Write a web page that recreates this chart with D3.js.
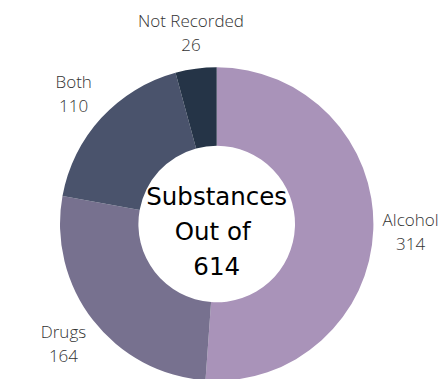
<!DOCTYPE html>
<html>
<head>
<meta charset="utf-8">
<script src="https://cdn.jsdelivr.net/npm/d3@7"></script>
<style>
  body { margin: 0; background: #fff; }
  svg { display: block; }
</style>
</head>
<body>
<svg id="donut"></svg>
<script>
// data
const categories = ['Alcohol', 'Drugs', 'Both', 'Not Recorded'];
const counts = [314, 164, 110, 26];
const colors = ['#a993b9', '#77718f', '#4a536c', '#253447'];
const centerLines = ['Substances', 'Out of', '614'];

const width = 446;
const height = 379;
const cx = 216.7;
const cy = 224;
const outerR = 156.7;
const innerR = 78.3;
const labelR = 194;

const svg = d3.select('#donut')
    .attr('width', width)
    .attr('height', height);

const g = svg.append('g')
    .attr('transform', `translate(${cx},${cy})`);

const data = categories.map((c, i) => ({ name: c, value: counts[i], color: colors[i] }));

const pie = d3.pie().sort(null).value(d => d.value);
const arc = d3.arc().innerRadius(innerR).outerRadius(outerR);
const labelArc = d3.arc().innerRadius(labelR).outerRadius(labelR);

const arcs = pie(data);

g.selectAll('path')
    .data(arcs)
    .enter()
    .append('path')
    .attr('d', arc)
    .attr('fill', d => d.data.color);

// outside labels
const labels = g.selectAll('.lbl')
    .data(arcs)
    .enter()
    .append('text')
    .attr('class', 'lbl')
    .attr('transform', d => `translate(${labelArc.centroid(d)})`)
    .style('font-family', '"Open Sans", sans-serif')
    .style('font-weight', 300)
    .style('font-size', '17px')
    .style('fill', '#333')
    .style('text-anchor', 'middle');

labels.append('tspan')
    .attr('x', 0)
    .attr('y', -5)
    .text(d => d.data.name);

labels.append('tspan')
    .attr('x', 0)
    .attr('y', 19.5)
    .text(d => d.data.value);

// center text
g.append('text')
    .style('font-family', '"DejaVu Sans", sans-serif')
    .style('font-size', '24.5px')
    .style('fill', '#000')
    .style('text-anchor', 'middle')
    .selectAll('tspan')
    .data(centerLines)
    .enter()
    .append('tspan')
    .attr('x', (d, i) => i === 1 ? -4 : 0)
    .attr('y', (d, i) => -19 + i * 35)
    .text(d => d);
</script>
</body>
</html>
